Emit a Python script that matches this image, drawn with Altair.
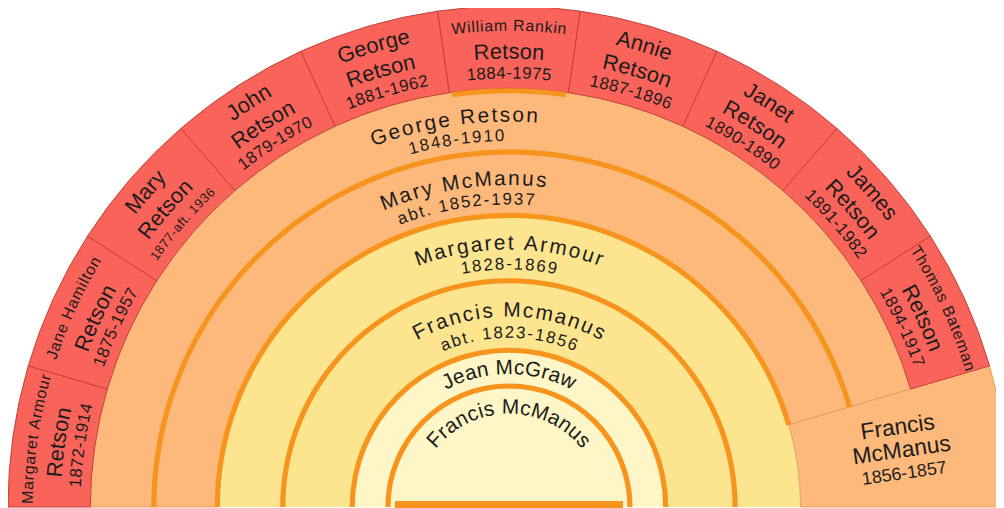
import math
import altair as alt
import pandas as pd

# ---------------- data ----------------
root_name = "Francis McManus"
ring_names = ["Jean McGraw", "Francis Mcmanus", "Margaret Armour", "Mary McManus", "George Retson"]
ring_dates = ["", "abt. 1823-1856", "1828-1869", "abt. 1852-1937", "1848-1910"]
sibling_lines = ["Francis", "McManus", "1856-1857"]
child_given = ["Margaret Armour", "Jane Hamilton", "Mary", "John", "George",
               "William Rankin", "Annie", "Janet", "James", "Thomas Bateman"]
child_surname = "Retson"
child_dates = ["1872-1914", "1875-1957", "1877-aft. 1936", "1879-1970", "1881-1962",
               "1884-1975", "1887-1896", "1890-1890", "1891-1982", "1894-1917"]
direct_line_child = "William Rankin"

# ---------------- layout / style ----------------
W, H = 996, 500
CX, CY = 505, 501
RADII = [0, 122, 158, 228, 294, 358, 422, 505]
UNIT = 180.0 / (len(child_given) + 1)
FAM_END = -90 + UNIT * len(child_given)

CREAM, YELLOW, PEACH, RED, ORANGE = "#fef6c6", "#fde58f", "#fdb97b", "#f9635a", "#f7941d"
ring_fill = [CREAM, YELLOW, YELLOW, PEACH, PEACH]
TXT = "#1c1c1c"

WID = {' ': 278, '-': 333, '.': 278,
       'a': 556, 'b': 556, 'c': 500, 'd': 556, 'e': 556, 'f': 278, 'g': 556, 'h': 556,
       'i': 222, 'j': 222, 'k': 500, 'l': 222, 'm': 833, 'n': 556, 'o': 556, 'p': 556,
       'q': 556, 'r': 333, 's': 500, 't': 278, 'u': 556, 'v': 500, 'w': 722, 'x': 500,
       'y': 500, 'z': 500, 'A': 667, 'B': 667, 'C': 722, 'D': 722, 'E': 667, 'F': 611,
       'G': 778, 'H': 722, 'I': 278, 'J': 500, 'K': 667, 'L': 556, 'M': 833, 'N': 722,
       'O': 778, 'P': 667, 'Q': 778, 'R': 722, 'S': 667, 'T': 611, 'U': 722, 'V': 667,
       'W': 944, 'X': 667, 'Y': 667, 'Z': 611}

# ---------------- segments ----------------
segs = []
segs.append(dict(t0=-90, t1=90, r0=RADII[0], r1=RADII[1], fill=CREAM, kind="light"))
for i in range(len(ring_names)):
    t1 = 90 if i < 3 else FAM_END
    segs.append(dict(t0=-90, t1=t1, r0=RADII[i + 1], r1=RADII[i + 2], fill=ring_fill[i],
                     kind="light" if i < 3 else "peach"))
segs.append(dict(t0=FAM_END, t1=90, r0=RADII[4], r1=RADII[7], fill=PEACH, kind="peach"))
for k in range(len(child_given)):
    segs.append(dict(t0=-90 + k * UNIT, t1=-90 + (k + 1) * UNIT, r0=RADII[6], r1=RADII[7],
                     fill=RED, kind="red"))
seg_df = pd.DataFrame(segs)

# orange lineage bands
BW = 2.6
bands = []
for r in RADII[1:4]:
    bands.append(dict(t0=-90, t1=90, r0=r - BW, r1=r + BW))
for r in RADII[4:6]:
    bands.append(dict(t0=-90, t1=FAM_END, r0=r - BW, r1=r + BW))
kd = child_given.index(direct_line_child)
bands.append(dict(t0=-90 + kd * UNIT + 0.3, t1=-90 + (kd + 1) * UNIT - 0.3,
                  r0=RADII[6] - 5, r1=RADII[6]))
band_df = pd.DataFrame(bands)
bar_df = pd.DataFrame([dict(x0=-115, x1=115, h0=-3, h1=6)])

# ---------------- labels ----------------
def twidth(s, fs, tr):
    return sum(WID.get(c, 556) for c in s) * fs / 1000.0 + tr * (len(s) - 1)

def curved(s, fs, tr, r, tc):
    rows = []
    total = twidth(s, fs, tr)
    pos = 0.0
    for c in s:
        w = WID.get(c, 556) * fs / 1000.0
        ang = tc + math.degrees((pos + w / 2 - total / 2) / r)
        if c != " ":
            rows.append(dict(ch=c, th=ang, r=r, rot=ang % 360, fs=fs))
        pos += w + tr
    return rows

labels = []
labels += curved(root_name, 21, 1.0, 100, 0)
labels += curved(ring_names[0], 21, 0.8, 140, 0)
for i in range(1, len(ring_names)):
    s = segs[i + 1]
    th = s["r1"] - s["r0"]
    tc = (s["t0"] + s["t1"]) / 2
    labels += curved(ring_names[i], 21, 2.4, s["r0"] + 0.57 * th, tc)
    labels += curved(ring_dates[i], 17, 2.0, s["r0"] + 0.25 * th, tc)
for k in range(len(child_given)):
    tc = -90 + (k + 0.5) * UNIT
    g = child_given[k]
    if " " in g:
        labels += curved(g, 16, 0.8, 485, tc)
    else:
        labels += curved(g, 22, 0.3, 485, tc)
    labels += curved(child_surname, 22, 0.3, 459, tc)
    d = child_dates[k]
    if len(d) > 9:
        labels += curved(d, 13, 0.6, 437, tc)
    else:
        labels += curved(d, 17, 0.5, 437, tc)
sc = (FAM_END + 90) / 2
for j, line in enumerate(sibling_lines):
    labels.append(dict(ch=line, th=sc + (j - 1) * 3.4, r=400, rot=(sc - 90) % 360,
                       fs=23 if j < 2 else 18))
lab_df = pd.DataFrame(labels)

# ---------------- chart ----------------
TH = alt.Scale(domain=[-180, 180], range=[-math.pi, math.pi])
RS = alt.Scale(type="linear", domain=[0, 505], range=[0, 505])
cx, cy = alt.value(CX), alt.value(CY)

def arcs(df, **mk):
    return alt.Chart(df).mark_arc(**mk).encode(
        x=cx, y=cy,
        theta=alt.Theta("t0:Q", scale=TH, stack=False), theta2="t1:Q",
        radius=alt.Radius("r0:Q", scale=RS), radius2="r1:Q",
    )

light = arcs(seg_df[seg_df.kind == "light"]).encode(color=alt.Color("fill:N", scale=None))
peach = arcs(seg_df[seg_df.kind == "peach"], stroke="#d29a58", strokeWidth=0.8).encode(
    color=alt.Color("fill:N", scale=None))
red = arcs(seg_df[seg_df.kind == "red"], stroke="#c24237", strokeWidth=1).encode(
    color=alt.Color("fill:N", scale=None))
band = arcs(band_df, color=ORANGE)

bar = alt.Chart(bar_df).mark_rect(color=ORANGE).encode(
    x=alt.X("x0:Q", scale=alt.Scale(domain=[-CX, W - CX], nice=False, zero=False), axis=None),
    x2="x1:Q",
    y=alt.Y("h0:Q", scale=alt.Scale(domain=[CY - H, CY], nice=False, zero=False), axis=None),
    y2="h1:Q",
)

text = alt.Chart(lab_df).mark_text(font="Liberation Sans", align="center", baseline="middle",
                                   color=TXT).encode(
    x=cx, y=cy,
    theta=alt.Theta("th:Q", scale=TH, stack=False),
    radius=alt.Radius("r:Q", scale=RS),
    angle=alt.Angle("rot:Q", scale=alt.Scale(domain=[0, 360], range=[0, 360])),
    size=alt.Size("fs:Q", scale=alt.Scale(domain=[0, 30], range=[0, 30]), legend=None),
    text="ch:N",
)

chart = alt.layer(light, peach, red, band, bar, text).properties(
    width=W, height=H, padding=0, autosize=alt.AutoSizeParams(type="none")
).configure_view(stroke="transparent")

chart.save("out.html", embed_options={"renderer": "svg", "actions": False})
